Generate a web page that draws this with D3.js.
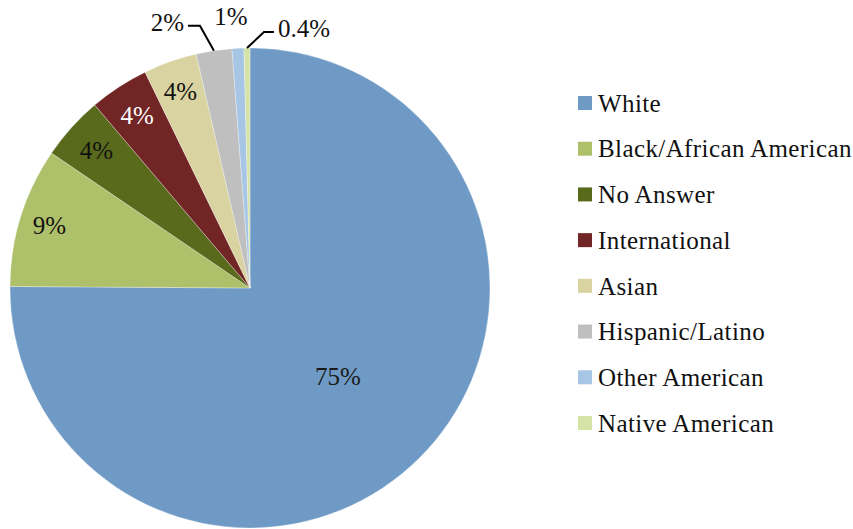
<!DOCTYPE html>
<html>
<head>
<meta charset="utf-8">
<script src="https://cdn.jsdelivr.net/npm/d3@7/dist/d3.min.js"></script>
</head>
<body style="margin:0">
<svg id="chart" width="853" height="529"></svg>
<script>
// --- data ---
const categories = ["White", "Black/African American", "No Answer", "International",
                    "Asian", "Hispanic/Latino", "Other American", "Native American"];
const shares = [75.1, 9.4, 4.3, 4.0, 3.6, 2.4, 0.8, 0.4];
const labels = ["75%", "9%", "4%", "4%", "4%", "2%", "1%", "0.4%"];
const colors = ["#6E9AC5", "#AFC06A", "#5A6A1C", "#722525",
                "#D8D3A0", "#BFBFBF", "#A7C5E4", "#D6E3A6"];

const FONT = "Liberation Serif";

const svg = d3.select("#chart");
const cx = 250, cy = 288, R = 240;

const pie = d3.pie().sort(null).value(d => d)(shares);
const arc = d3.arc().innerRadius(0).outerRadius(R);

const g = svg.append("g").attr("transform", `translate(${cx},${cy})`);

g.selectAll("path.slice")
    .data(pie)
    .join("path")
    .attr("class", "slice")
    .attr("d", arc)
    .attr("fill", (d, i) => colors[i])
    .attr("stroke", "#fff")
    .attr("stroke-opacity", 0.5)
    .attr("stroke-width", 0.6);

function addText(sel) {
    return sel.append("text")
        .style("font-family", `"${FONT}"`)
        .attr("font-size", 25);
}

// label placement: inside labels sit on a ring, small slices get leaders
const inner = [0.52, 0.875, 0.86, 0.86, 0.87];
const textColor = ["#1a1a1a", "#111", "#111", "#fff", "#111"];

pie.forEach((d, i) => {
    const mid = (d.startAngle + d.endAngle) / 2;
    if (i < inner.length) {
        const rr = R * inner[i];
        addText(g)
            .attr("x", Math.sin(mid) * rr)
            .attr("y", -Math.cos(mid) * rr)
            .attr("dy", "0.35em")
            .attr("text-anchor", "middle")
            .attr("fill", textColor[i])
            .text(labels[i]);
    }
});

// outside labels (Hispanic, Other, Native)
const outside = [
    { i: 5, leader: [[-14, -25], [-26, -25]], anchor: "end", dx: -4 },
    { i: 6, leader: null, anchor: "middle", tx: -7 },
    { i: 7, leader: [[17, -16], [27, -16]], anchor: "start", dx: 4 }
];

outside.forEach(o => {
    const d = pie[o.i];
    const mid = (d.startAngle + d.endAngle) / 2;
    const ex = Math.sin(mid) * R, ey = -Math.cos(mid) * R;
    let tx, ty;
    if (o.leader) {
        const pts = [[ex, ey]].concat(o.leader.map(p => [ex + p[0], ey + p[1]]));
        g.append("path")
            .attr("d", d3.line()(pts))
            .attr("fill", "none")
            .attr("stroke", "#000")
            .attr("stroke-width", 2);
        const last = pts[pts.length - 1];
        tx = last[0] + o.dx;
        ty = last[1];
    } else {
        tx = ex + o.tx;
        ty = ey - 28;
    }
    addText(g)
        .attr("x", tx)
        .attr("y", ty)
        .attr("dy", "0.2em")
        .attr("text-anchor", o.anchor)
        .attr("fill", "#111")
        .text(labels[o.i]);
});

// legend
const ly = d3.scalePoint().domain(categories).range([103, 423]);
const legend = svg.append("g");
categories.forEach((c, i) => {
    const row = legend.append("g").attr("transform", `translate(578,${ly(c)})`);
    row.append("rect")
        .attr("x", 0).attr("y", -7)
        .attr("width", 14).attr("height", 14)
        .attr("fill", colors[i]);
    addText(row)
        .attr("x", 20)
        .attr("dy", "0.35em")
        .attr("letter-spacing", 0.4)
        .attr("fill", "#111")
        .text(c);
});
</script>
</body>
</html>
